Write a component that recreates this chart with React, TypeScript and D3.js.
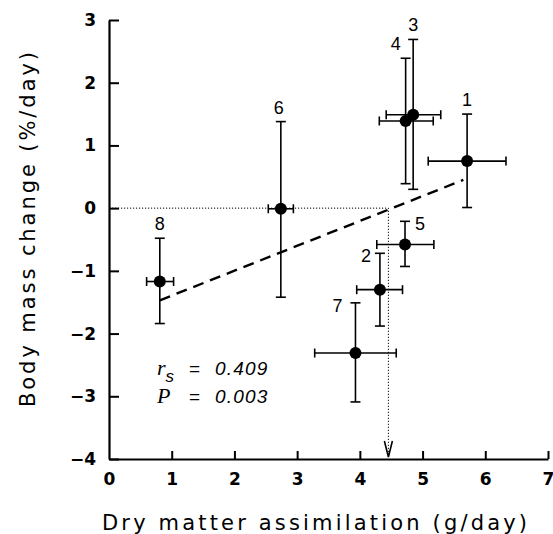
import React, { useEffect, useRef } from 'react'
import * as d3 from 'd3'

// animals 1..8: mean and error bounds
const ids = ['1', '2', '3', '4', '5', '6', '7', '8']
const xMean = [5.71, 4.32, 4.85, 4.73, 4.72, 2.74, 3.93, 0.81]
const xLow = [5.09, 3.95, 4.42, 4.31, 4.27, 2.54, 3.28, 0.6]
const xHigh = [6.33, 4.68, 5.29, 5.17, 5.18, 2.94, 4.58, 1.03]
const yMean = [0.75, -1.3, 1.49, 1.39, -0.58, -0.01, -2.31, -1.17]
const yLow = [0.01, -1.88, 0.3, 0.39, -0.93, -1.42, -3.09, -1.84]
const yHigh = [1.5, -0.72, 2.69, 2.39, -0.21, 1.38, -1.51, -0.48]

// label offset from point (px) for the numbers
const labelDx = [0, -14, 0, -10, 15, -2, -18, 0]

const fitX = [0.81, 5.65]
const fitY = [-1.47, 0.45]
const zeroGainX = 4.455

const xTicks = [0, 1, 2, 3, 4, 5, 6, 7]
const yTicks = [-4, -3, -2, -1, 0, 1, 2, 3]

const App = () => {
	const ref = useRef(null)

	useEffect(() => {
		const svg = d3.select(ref.current)
		svg.selectAll('*').remove()

		const x = d3.scaleLinear().domain([0, 7]).range([109, 548])
		const y = d3.scaleLinear().domain([-4, 3]).range([459, 20])

		const tickFont = '"DejaVu Sans", sans-serif'
		const labelFont = '"Liberation Sans", Arial, sans-serif'

		// axes
		const xAxis = svg.append('g')
			.attr('transform', `translate(0, ${y(-4)})`)
			.call(d3.axisBottom(x).tickValues(xTicks).tickSize(-8).tickSizeOuter(0).tickFormat(d3.format('d')))
		xAxis.select('.domain').attr('stroke-width', 2.2)
		xAxis.selectAll('.tick line').attr('stroke-width', 2)
		xAxis.selectAll('.tick').filter(d => d === 0).select('line').remove()
		xAxis.selectAll('text')
			.attr('y', 14)
			.attr('font-family', tickFont)
			.attr('font-weight', 'bold')
			.attr('font-size', 17)
			.attr('fill', '#000')

		const yAxis = svg.append('g')
			.attr('transform', `translate(${x(0)}, 0)`)
			.call(d3.axisLeft(y).tickValues(yTicks).tickSize(-10).tickSizeOuter(0).tickFormat(d => d3.format('d')(d).replace('-', '\u2212')))
		yAxis.select('.domain').attr('stroke-width', 2.2)
		yAxis.selectAll('.tick line').attr('stroke-width', 2)
		yAxis.selectAll('text')
			.attr('x', -13)
			.attr('font-family', tickFont)
			.attr('font-weight', 'bold')
			.attr('font-size', 17)
			.attr('fill', '#000')

		// dotted guide lines
		svg.append('path')
			.attr('d', d3.line()([[x(0), y(0)], [x(zeroGainX), y(0)], [x(zeroGainX), y(-4) - 2]]))
			.attr('fill', 'none')
			.attr('stroke', '#000')
			.attr('stroke-width', 1)
			.attr('stroke-dasharray', '1.2,1.8')
		svg.append('path')
			.attr('d', d3.line()([[x(zeroGainX) - 4, y(-4) - 18], [x(zeroGainX), y(-4) - 2], [x(zeroGainX) + 4, y(-4) - 18]]))
			.attr('fill', 'none')
			.attr('stroke', '#000')
			.attr('stroke-width', 1.6)

		// regression line
		svg.append('path')
			.attr('d', d3.line()(fitX.map((v, i) => [x(v), y(fitY[i])])))
			.attr('stroke', '#000')
			.attr('stroke-width', 2.4)
			.attr('stroke-dasharray', '11,7')

		const pts = svg.append('g')
		ids.forEach((id, i) => {
			const cx = x(xMean[i])
			const cy = y(yMean[i])
			const g = pts.append('g').attr('stroke', '#000').attr('stroke-width', 1.6)
			g.append('line').attr('x1', cx).attr('x2', cx).attr('y1', y(yLow[i])).attr('y2', y(yHigh[i]))
			g.append('line').attr('x1', cx - 5).attr('x2', cx + 5).attr('y1', y(yLow[i])).attr('y2', y(yLow[i]))
			g.append('line').attr('x1', cx - 5).attr('x2', cx + 5).attr('y1', y(yHigh[i])).attr('y2', y(yHigh[i]))
			g.append('line').attr('x1', x(xLow[i])).attr('x2', x(xHigh[i])).attr('y1', cy).attr('y2', cy)
			g.append('line').attr('x1', x(xLow[i])).attr('x2', x(xLow[i])).attr('y1', cy - 4.5).attr('y2', cy + 4.5)
			g.append('line').attr('x1', x(xHigh[i])).attr('x2', x(xHigh[i])).attr('y1', cy - 4.5).attr('y2', cy + 4.5)
			pts.append('circle').attr('cx', cx).attr('cy', cy).attr('r', 6).attr('fill', '#000')
		})

		// point numbers
		svg.append('g')
			.selectAll('text')
			.data(ids)
			.join('text')
			.attr('x', (d, i) => x(xMean[i]) + labelDx[i])
			.attr('y', (d, i) => i === 1 || i === 4 || i === 6 ? y(yHigh[i]) + 9 : y(yHigh[i]) - 8)
			.attr('text-anchor', 'middle')
			.attr('font-family', labelFont)
			.attr('font-size', 18)
			.text(d => d)

		// statistics
		const stat = svg.append('g').attr('font-size', 19)
		const t1 = stat.append('text').attr('x', 157).attr('y', 375)
		t1.append('tspan').attr('font-family', '"Liberation Serif", serif').attr('font-style', 'italic').attr('font-size', 22).text('r')
		t1.append('tspan').attr('font-family', labelFont).attr('font-style', 'italic').attr('font-size', 17).attr('dy', 7).text('s')
		t1.append('tspan').attr('font-family', labelFont).attr('dy', -7).attr('x', 189).text('=')
		t1.append('tspan').attr('font-family', labelFont).attr('font-style', 'italic').attr('x', 215).attr('letter-spacing', 1.2).text('0.409')
		const t2 = stat.append('text').attr('x', 157).attr('y', 403)
		t2.append('tspan').attr('font-family', '"Liberation Serif", serif').attr('font-style', 'italic').attr('font-size', 22).text('P')
		t2.append('tspan').attr('font-family', labelFont).attr('x', 189).text('=')
		t2.append('tspan').attr('font-family', labelFont).attr('font-style', 'italic').attr('x', 215).attr('letter-spacing', 1.2).text('0.003')

		// axis titles
		svg.append('text')
			.attr('x', 102)
			.attr('y', 530)
			.attr('font-family', '"DejaVu Sans", sans-serif')
			.attr('font-size', 21)
			.attr('textLength', 425)
			.attr('lengthAdjust', 'spacing')
			.text('Dry matter assimilation (g/day)')
		svg.append('text')
			.attr('transform', 'translate(35, 407) rotate(-90)')
			.attr('font-family', '"DejaVu Sans", sans-serif')
			.attr('font-size', 21)
			.attr('textLength', 355)
			.attr('lengthAdjust', 'spacing')
			.text('Body mass change (%/day)')
	}, [])

	return (
		<svg ref={ref} width={553} height={534} style={{ position: 'absolute', left: 0, top: 0, background: '#fff' }} />
	)
}

export default App
